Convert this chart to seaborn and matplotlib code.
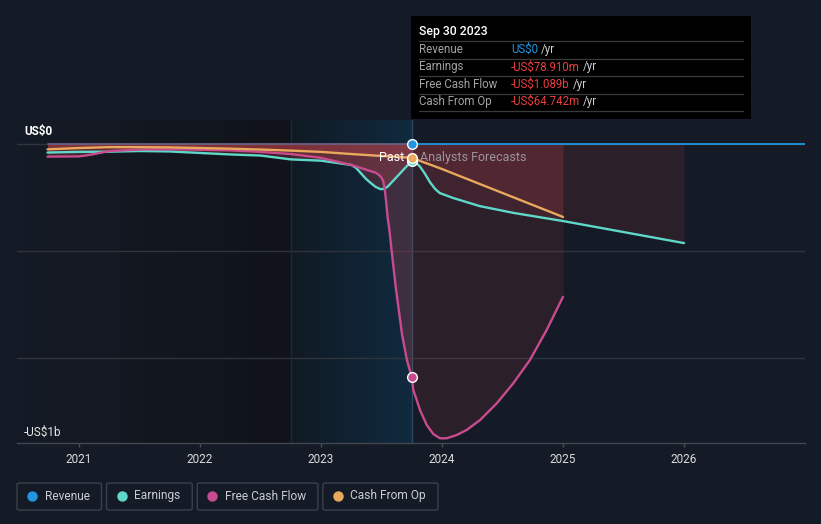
import matplotlib.pyplot as plt
import numpy as np
import seaborn as sns
from matplotlib.lines import Line2D
from matplotlib.patches import FancyBboxPatch, Rectangle

# decimal years, values in US$ billions
rev_past_x = [2020.74, 2023.75]
rev_past_y = [0.0, 0.0]
rev_fc_x = [2023.75, 2024.0, 2025.0, 2026.0, 2027.0]
rev_fc_y = [0.0, 0.0, 0.0, 0.0, 0.0]

earn_past_x = [2020.74, 2021.0, 2021.25, 2021.5, 2021.75, 2022.0, 2022.25, 2022.5,
               2022.75, 2023.0, 2023.25, 2023.29, 2023.33, 2023.37, 2023.41, 2023.45,
               2023.49, 2023.52, 2023.55, 2023.75]
earn_past_y = [-0.040, -0.037, -0.036, -0.033, -0.035, -0.042, -0.049, -0.054,
               -0.072, -0.078, -0.098, -0.112, -0.137, -0.162, -0.182, -0.200,
               -0.211, -0.210, -0.200, -0.0789]
earn_fc_x = [2023.75, 2023.79, 2023.82, 2023.86, 2023.9, 2023.94, 2023.98, 2024.09,
             2024.31, 2024.59, 2025.0, 2026.0]
earn_fc_y = [-0.0789, -0.090, -0.107, -0.140, -0.178, -0.208, -0.229, -0.252,
             -0.29, -0.322, -0.36, -0.463]

fcf_past_x = [2020.74, 2021.0, 2021.1, 2021.25, 2021.5, 2021.75, 2022.0, 2022.25, 2022.5,
              2022.75, 2023.0, 2023.25, 2023.45, 2023.48, 2023.50, 2023.515, 2023.526,
              2023.537, 2023.55, 2023.565, 2023.58, 2023.62, 2023.67, 2023.71, 2023.75]
fcf_past_y = [-0.059, -0.058, -0.050, -0.033, -0.026, -0.025, -0.027, -0.030, -0.037,
              -0.047, -0.065, -0.098, -0.134, -0.145, -0.157, -0.176, -0.207,
              -0.262, -0.34, -0.40, -0.48, -0.68, -0.89, -1.01, -1.089]
fcf_fc_x = [2023.75, 2023.763, 2023.791, 2023.818, 2023.874, 2023.928, 2023.983, 2024.039,
            2024.121, 2024.204, 2024.314, 2024.452, 2024.589, 2024.727, 2024.865, 2025.0]
fcf_fc_y = [-1.089, -1.150, -1.196, -1.243, -1.313, -1.355, -1.375, -1.375,
            -1.360, -1.336, -1.290, -1.212, -1.118, -1.009, -0.869, -0.714]

cfo_past_x = [2020.74, 2021.0, 2021.25, 2021.5, 2021.75, 2022.0, 2022.25, 2022.5,
              2022.75, 2023.0, 2023.25, 2023.5, 2023.75]
cfo_past_y = [-0.025, -0.019, -0.015, -0.015, -0.016, -0.019, -0.022, -0.026,
              -0.031, -0.037, -0.047, -0.056, -0.0647]
cfo_fc_x = [2023.75, 2024.0, 2024.5, 2025.0]
cfo_fc_y = [-0.0647, -0.117, -0.229, -0.341]

year_ticks = [2021, 2022, 2023, 2024, 2025, 2026]
last_year_start = 2022.75
present = 2023.75

legend_names = ["Revenue", "Earnings", "Free Cash Flow", "Cash From Op"]
tip_values = ["US$0", "-US$78.910m", "-US$1.089b", "-US$64.742m"]

C_REV = "#2394df"
C_EARN = "#5fd8c9"
C_FCF = "#c84b8f"
C_CFO = "#e8a95c"
C_FILL = "#e5484f"
BG = "#151b26"

W, H = 821, 524


def fx(px):
    return px / W


def fy(py):
    return 1 - py / H


sns.set_theme(style="dark")
plt.rcParams["font.family"] = ["Roboto", "DejaVu Sans"]

fig = plt.figure(figsize=(W / 100, H / 100), dpi=100, facecolor=BG)
ax = fig.add_axes([fx(17), fy(443), 788 / W, 323 / H])
ax.set_facecolor(BG)

xmin, xmax = 2020.4876, 2027.0
ymin, ymax = -1.397, 0.112

# background shading: past (dark) and last year (blue)
grad = np.linspace(0, 1, 256)
c0, c1 = np.array([21, 27, 38]), np.array([16, 19, 25])
img = (c0[None, :] + grad[:, None] * (c1 - c0)[None, :]) / 255
ax.imshow(img[None, :, :], extent=[xmin, last_year_start, ymin, ymax], aspect="auto", zorder=0)
c0, c1 = np.array([16, 26, 36]), np.array([17, 42, 63])
img = (c0[None, :] + grad[:, None] * (c1 - c0)[None, :]) / 255
ax.imshow(img[None, :, :], extent=[last_year_start, present, ymin, ymax], aspect="auto", zorder=0)
ax.axvline(last_year_start, color="#172c3a", lw=1, zorder=0.6)
ax.axvline(present, color="#2c4a5f", lw=1, zorder=0.6)

# fills between zero and each series
for xs, ys in [(earn_past_x, earn_past_y), (fcf_past_x, fcf_past_y), (cfo_past_x, cfo_past_y)]:
    ax.fill_between(xs, 0, ys, color=C_FILL, alpha=0.22, lw=0, zorder=1)
for xs, ys in [(earn_fc_x, earn_fc_y), (fcf_fc_x, fcf_fc_y), (cfo_fc_x, cfo_fc_y)]:
    ax.fill_between(xs, 0, ys, color=C_FILL, alpha=0.11, lw=0, zorder=1)

# lines
ax.plot(rev_past_x, rev_past_y, color="#6a5f80", lw=1.3, zorder=2)
sns.lineplot(x=rev_fc_x, y=rev_fc_y, color=C_REV, lw=1.3, ax=ax, estimator=None, zorder=2)
for xs, ys, col in [(earn_past_x, earn_past_y, C_EARN), (earn_fc_x, earn_fc_y, C_EARN),
                    (fcf_past_x, fcf_past_y, C_FCF), (fcf_fc_x, fcf_fc_y, C_FCF),
                    (cfo_past_x, cfo_past_y, C_CFO), (cfo_fc_x, cfo_fc_y, C_CFO)]:
    sns.lineplot(x=xs, y=ys, color=col, lw=1.7, ax=ax, estimator=None, zorder=2)

for xs, ys, col in [(rev_past_x, rev_past_y, C_REV), (earn_past_x, earn_past_y, C_EARN),
                    (fcf_past_x, fcf_past_y, C_FCF), (cfo_past_x, cfo_past_y, C_CFO)]:
    ax.plot(xs[-1], ys[-1], "o", ms=7, mfc=col, mec="white", mew=1, zorder=4)

ax.text(present - 0.06, cfo_past_y[-1], "Past", color="white", fontsize=9,
        ha="right", va="center", zorder=5)
ax.text(present + 0.07, cfo_past_y[-1], "Analysts Forecasts", color="#9b949e", fontsize=9,
        ha="left", va="center", zorder=5)

ax.set_xlim(xmin, xmax)
ax.set_ylim(ymin, ymax)
ax.set_xticks(year_ticks)
ax.set_xticklabels([str(y) for y in year_ticks])
ax.set_yticks([-1.0, -0.5, 0.0])
ax.set_yticklabels([])
ax.yaxis.grid(True, color="#2e333c", lw=1)
ax.xaxis.grid(False)
ax.tick_params(axis="x", colors="#4a4f58", labelcolor="#dadada", labelsize=8.5,
               length=3, width=1, pad=4, bottom=True)
ax.tick_params(axis="y", length=0)
for s in ["top", "right", "left"]:
    ax.spines[s].set_visible(False)
ax.spines["bottom"].set_color("#41464f")
ax.spines["bottom"].set_linewidth(1)

fig.text(fx(24), fy(132), "US$0", color="white", fontsize=8.5, fontweight="bold",
         ha="left", va="center")
fig.text(fx(24), fy(432), "-US$1b", color="#e6e6e6", fontsize=8.5,
         ha="left", va="center")

# tooltip
fig.add_artist(Rectangle((fx(411), fy(119)), 340 / W, 103 / H, transform=fig.transFigure,
                         fc="black", ec="none", zorder=10))
fig.text(fx(419), fy(31), "Sep 30 2023", color="white", fontsize=8.8, fontweight="medium",
         ha="left", va="center", zorder=11)
for yy in [41, 58.5, 76, 93.5, 111]:
    fig.add_artist(Line2D([fx(419), fx(743)], [fy(yy), fy(yy)], transform=fig.transFigure,
                          color="#3a3a3a", lw=0.9, zorder=11))
fig.canvas.draw()
r = fig.canvas.get_renderer()
for i, (name, val) in enumerate(zip(legend_names, tip_values)):
    yy = 49.5 + i * 17.4
    fig.text(fx(419), fy(yy), name, color="#a3a3a3", fontsize=8.3, ha="left", va="center", zorder=11)
    vcol = C_REV if i == 0 else "#e8403f"
    t = fig.text(fx(511), fy(yy), val, color=vcol, fontsize=8.3, ha="left", va="center", zorder=11)
    w = t.get_window_extent(r).width
    fig.text(fx(511 + w + 3), fy(yy), "/yr", color="#cfcfcf", fontsize=8.3,
             ha="left", va="center", zorder=11)

# legend
left = 17
for name, col in zip(legend_names, [C_REV, C_EARN, C_FCF, C_CFO]):
    t = fig.text(fx(left + 27.5), fy(496), name, color="#c9cdd3", fontsize=8.6,
                 ha="left", va="center")
    w = t.get_window_extent(r).width
    bw = 27.5 + w + 12
    fig.add_artist(FancyBboxPatch((fx(left), fy(510)), bw / W, 27 / H,
                                  boxstyle="round,pad=0,rounding_size=0.003",
                                  transform=fig.transFigure, fc="none", ec="#3b414b", lw=1))
    fig.add_artist(Line2D([fx(left + 15)], [fy(496)], marker="o", ms=6.5, color=col,
                          mec=col, transform=fig.transFigure))
    left += bw + 5

plt.savefig("out.png", dpi=100, facecolor=BG)
